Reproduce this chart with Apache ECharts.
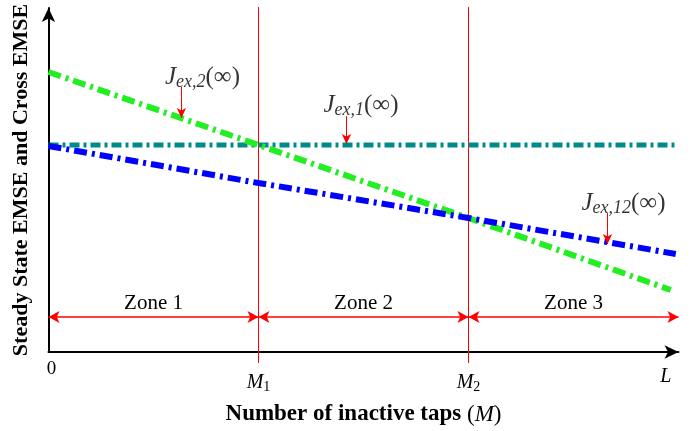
<!DOCTYPE html>
<html><head><meta charset="utf-8">
<script src="https://cdn.jsdelivr.net/npm/echarts@6/dist/echarts.min.js"></script>
<style>html,body{margin:0;padding:0;background:#fff}#c{width:697px;height:431px}</style>
</head><body><div id="c"></div>
<script>
// ---- data (x: 0, M1=1, M2=2, L=3) ----
const tickValues = [0, 1, 2, 2.94];
const tickLabels = ['0', 'M1', 'M2', 'L'];
const cross1 = [[0, 2.07], [3, 2.07]];                          // J_ex,1 (teal)
const cross2 = [[0, 2.80], [1, 2.07], [2, 1.34], [2.963, 0.62]]; // J_ex,2 (green)
const cross12 = [[0, 2.06], [1, 1.69], [2, 1.34], [2.987, 0.98]]; // J_ex,12 (blue)
const boundaries = [1, 2];
const boundaryExtent = [-0.11, 3.45];
const zoneEdges = [0, 1, 2, 3];
const zoneNames = ['Zone 1', 'Zone 2', 'Zone 3'];
const zoneLevel = 0.35;
const annSubs = ['ex,2', 'ex,1', 'ex,12'];
const annText = [[0.733, 2.75], [1.488, 2.47], [2.738, 1.49]];
const annArrowX = [0.633, 1.419, 2.662];
const annArrowFrom = [2.65, 2.36, 1.39];
const annArrowTo = [2.34, 2.08, 1.08];

const SERIF = '"Liberation Serif", "DejaVu Serif", serif';
const red = '#ff0000';

const chart = echarts.init(document.getElementById('c'), null, {renderer: 'canvas'});

const lineSeries = (data, color, width, dash) => ({
  type: 'line', data, symbol: 'none', silent: true, z: 3,
  lineStyle: {color, width, type: dash, cap: 'butt'}
});

const series = [];
boundaries.forEach(b => series.push({
  type: 'line', clip: false, symbol: 'none', silent: true, z: 1,
  data: [[b, boundaryExtent[0]], [b, boundaryExtent[1]]],
  lineStyle: {color: red, width: 1}
}));
series.push(lineSeries(cross1, '#008b8b', 5, [10, 4, 3, 4]));
series.push(lineSeries(cross2, '#22ee22', 6, [13, 5, 3, 5]));
series.push(lineSeries(cross12, '#0000ff', 6, [13, 5, 3, 5]));

// zone arrows
series.push({
  type: 'line', data: [], silent: true, z: 2,
  markLine: {
    silent: true, symbol: ['arrow', 'arrow'], symbolSize: [9, 11],
    lineStyle: {color: red, width: 1.5, type: 'solid'},
    label: {show: true, position: 'middle', distance: 3, color: '#000',
      fontFamily: SERIF, fontSize: 21, formatter: p => p.name},
    data: zoneNames.map((n, i) => [{name: n, coord: [zoneEdges[i], zoneLevel]}, {coord: [zoneEdges[i + 1], zoneLevel]}])
  }
});
// annotation arrows
series.push({
  type: 'line', data: [], silent: true, z: 4,
  markLine: {
    silent: true, symbol: ['none', 'arrow'], symbolSize: [7, 10],
    lineStyle: {color: red, width: 1, type: 'solid'}, label: {show: false},
    data: annArrowX.map((x, i) => [{coord: [x, annArrowFrom[i]]}, {coord: [x, annArrowTo[i]]}])
  }
});
// annotation texts
series.push({
  type: 'scatter', symbolSize: 0, silent: true, z: 5,
  data: annText.map((p, i) => ({value: p, sub: annSubs[i]})),
  label: {
    show: true, position: 'inside', color: '#000',
    formatter: p => '{j|J}{s|' + p.data.sub + '}{p|(∞)}',
    rich: {
      j: {fontFamily: SERIF, fontStyle: 'italic', fontSize: 25, color: '#000'},
      s: {fontFamily: SERIF, fontStyle: 'italic', fontSize: 18, color: '#000', padding: [11, 0, 0, 0]},
      p: {fontFamily: SERIF, fontSize: 25, color: '#000'}
    }
  }
});

chart.setOption({
  animation: false,
  backgroundColor: '#fff',
  grid: {left: 48.5, right: 18.5, top: 8, bottom: 79, containLabel: false},
  xAxis: {
    type: 'value', min: 0, max: 3,
    axisLine: {show: true, lineStyle: {color: '#000', width: 2}, symbol: ['none', 'arrow'], symbolSize: [10, 14]},
    axisTick: {show: false}, splitLine: {show: false},
    axisLabel: {
      show: true, customValues: tickValues, margin: 8, color: '#000',
      formatter: v => {
        const i = tickValues.findIndex(t => Math.abs(t - v) < 1e-6);
        const s = tickLabels[i];
        if (s === '0') return '{z|0}';
        if (s === 'L') return '{l|L}';
        return '{m|M}{n|' + s.slice(1) + '}';
      },
      rich: {
        z: {fontFamily: SERIF, fontSize: 19, color: '#000', padding: [0, 0, 0, 6]},
        l: {fontFamily: SERIF, fontStyle: 'italic', fontSize: 20, color: '#000', padding: [7, 0, 0, 0]},
        m: {fontFamily: SERIF, fontStyle: 'italic', fontSize: 20, color: '#000', padding: [11, 0, 0, 0]},
        n: {fontFamily: SERIF, fontSize: 14, color: '#000', padding: [20, 0, 0, 0]}
      }
    },
    name: '{b|Number of inactive taps }{r|(}{i|M}{r|)}',
    nameLocation: 'middle', nameGap: 51,
    nameTextStyle: {
      rich: {
        b: {fontFamily: SERIF, fontWeight: 'bold', fontSize: 23, color: '#000'},
        r: {fontFamily: SERIF, fontSize: 23, color: '#000'},
        i: {fontFamily: SERIF, fontStyle: 'italic', fontSize: 23, color: '#000'}
      }
    }
  },
  yAxis: {
    type: 'value', min: 0, max: 3.44,
    axisLine: {show: true, lineStyle: {color: '#000', width: 2}, symbol: ['none', 'arrow'], symbolSize: [10, 14]},
    axisTick: {show: false}, splitLine: {show: false}, axisLabel: {show: false},
    name: 'Steady State EMSE and Cross EMSE',
    nameLocation: 'middle', nameGap: 16,
    nameTextStyle: {fontFamily: SERIF, fontWeight: 'bold', fontSize: 22, color: '#000'}
  },
  series
});
</script></body></html>
